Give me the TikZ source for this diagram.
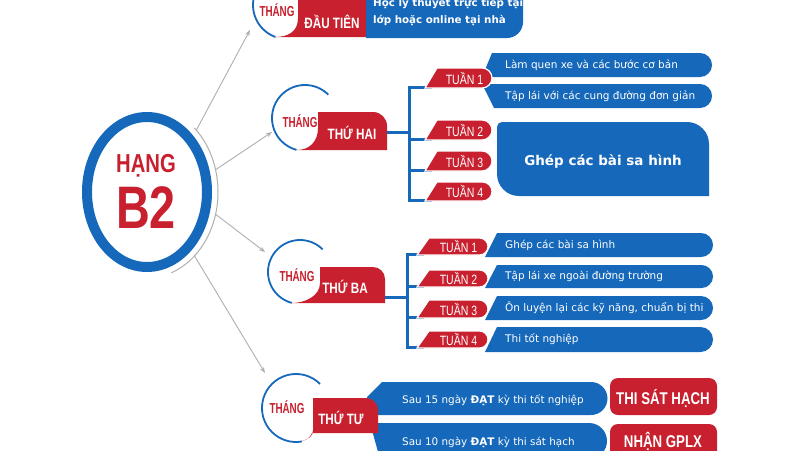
\documentclass[tikz,border=0pt]{standalone}
\usepackage{fontspec}
\usepackage{graphicx}
\setmainfont{DejaVu Sans}
\newfontfamily\condf{Liberation Sans}[FakeStretch=0.78]
\newfontfamily\dvs{DejaVu Sans}
\usetikzlibrary{arrows.meta}
\definecolor{bl}{RGB}{22,104,186}
\definecolor{rd}{RGB}{200,32,46}
\definecolor{gr}{RGB}{175,175,175}
\newcommand\tuantab[6]{%
  \pgfmathsetmacro\hh{(#4-#3)/2}%
  \fill[rd, draw=white, line width=1.2pt] (#2,#4) -- ({#2+12},#3) -- ({#5-\hh},#3)
     arc[start angle=-90, end angle=90, radius=\hh] -- cycle;
  \node[tabtxt] (#1) at ({(#2+12+#5)/2}, {(#3+#4)/2+0.5}) {#6};}
\newcommand\pill[7]{%
  \pgfmathsetmacro\hh{(#5-#4)/2}%
  \fill[bl] (#2,#4) -- ({#6-\hh},#4) arc[start angle=-90, end angle=90, radius=\hh]
     -- (#3,#5) -- cycle;
  \node[pilltxt] (#1) at (505, {(#4+#5)/2}) {#7};}
\begin{document}
\begin{tikzpicture}[x=1pt,y=-1pt,
  conn/.style={draw=gr, line width=0.9pt, -{Stealth[length=6pt,width=4.5pt]}},
  blink/.style={draw=bl, line width=3pt},
  headtxt/.style={inner sep=0, font=\condf\bfseries\fontsize{15}{15}\selectfont, text=white},
  thang/.style={inner sep=0, font=\condf\bfseries\fontsize{14.5}{15}\selectfont, text=rd},
  tabtxt/.style={inner sep=0, font=\condf\fontsize{13.5}{13}\selectfont, text=white},
  pilltxt/.style={inner sep=0, anchor=west, font=\dvs\fontsize{10.5}{12}\selectfont, text=white},
  bartxt/.style={inner sep=0, anchor=west, font=\dvs\fontsize{10.4}{12}\selectfont, text=white},
  redlab/.style={inner sep=0, font=\condf\bfseries\fontsize{17}{17}\selectfont, text=white},
  ringc/.style={draw=bl, line width=1.8pt}
]
\useasboundingbox (0,0) rectangle (800,450);
\clip (0,0) rectangle (800,450);
\fill[white] (0,0) rectangle (800,450);

% ---------- main circle ----------
\draw[bl, line width=10pt] (147,192) ellipse [x radius=60, y radius=75];
\node[inner sep=0, text=rd, font=\condf\bfseries\fontsize{26}{26}\selectfont] (hang) at (146,166) {HẠNG};
\node[inner sep=0, text=rd, font=\condf\bfseries\fontsize{60}{60}\selectfont] (b2) at (146,208) {B2};
\draw[gr, line width=1pt] (147,192) ++(-48:71 and 86) arc[start angle=-48, end angle=70, x radius=71, y radius=86];
\path (147,192) ++(-46:71 and 86) coordinate (s1);
\path (147,192) ++(-15:71 and 86) coordinate (s2);
\path (147,192) ++(15:71 and 86) coordinate (s3);
\path (147,192) ++(48:71 and 86) coordinate (s4);
\coordinate (e1) at (250,30);
\coordinate (e2) at (272,132);
\coordinate (e3) at (265,252);
\coordinate (e4) at (265,373);
\draw[conn] (s1) -- (e1);
\draw[conn] (s2) -- (e2);
\draw[conn] (s3) -- (e3);
\draw[conn] (s4) -- (e4);

% ---------- month 1 ----------
\draw[ringc] (287,5) ++(330:34) arc[start angle=330, end angle=110, radius=34];
\fill[rd] (275,37) -- (380,37) -- (380,0) -- (298,0) -- (298,18) .. controls (298,31) and (289,37) .. (275,37) -- cycle;
\fill[bl] (366,38) -- (366,-20) -- (523,-20) -- (523,22) arc[start angle=0, end angle=90, radius=16] -- cycle;
\node[thang] (m1a) at (277,10) {\scalebox{0.87}[1]{THÁNG}};
\node[headtxt] (m1b) at (332,22) {ĐẦU TIÊN};
\node[inner sep=0, anchor=west, text=white, font=\dvs\bfseries\fontsize{10.3}{12}\selectfont] (m1t1) at (373,3) {Học lý thuyết trực tiếp tại};
\node[inner sep=0, anchor=west, text=white, font=\dvs\bfseries\fontsize{10.3}{12}\selectfont] (m1t2) at (373,20) {lớp hoặc online tại nhà};

% ---------- month 2 ----------
\draw[ringc] (305,118) ++(315:33) arc[start angle=315, end angle=105, radius=33];
\fill[rd] (297,150) -- (387,150) -- (387,126) arc[start angle=0, end angle=-90, radius=14] -- (318,112) -- (318,128) .. controls (318,142) and (309,150) .. (297,150) -- cycle;
\node[thang] (m2a) at (300,121) {\scalebox{0.87}[1]{THÁNG}};
\node[headtxt] (m2b) at (352,133) {THỨ HAI};
\coordinate (m2r) at (387,132);
\coordinate (m2bar) at (409,132);
\coordinate (m2top) at (409,87);
\coordinate (m2bot) at (409,200);
\draw[blink] (m2r) -- (m2bar);
\draw[blink, line cap=rect] (m2top) -- (m2bot);
\draw[blink] (m2top) -- (432,87);
\draw[blink] (409,139) -- (432,139);
\draw[blink] (409,170) -- (432,170);
\draw[blink] (m2bot) -- (432,200);
\pill{p21}{492}{482}{53}{77}{712}{Làm quen xe và các bước cơ bản}
\pill{p22}{482}{494}{84}{108}{712}{Tập lái với các cung đường đơn giản}
\fill[bl] (502,122) -- (687,122) arc[start angle=-90, end angle=0, radius=22] -- (709,196) -- (519,196) arc[start angle=90, end angle=180, radius=22] -- (497,127) arc[start angle=180, end angle=270, radius=5] -- cycle;
\node[inner sep=0, text=white, font=\dvs\bfseries\fontsize{13.5}{14}\selectfont] (ghep) at (603,162) {Ghép các bài sa hình};
\tuantab{t21}{425}{68}{88}{492}{TUẦN 1}
\tuantab{t22}{425}{120}{140}{492}{TUẦN 2}
\tuantab{t23}{425}{151}{171}{492}{TUẦN 3}
\tuantab{t24}{425}{182}{201}{492}{TUẦN 4}

% ---------- month 3 ----------
\draw[ringc] (300,272) ++(315:32) arc[start angle=315, end angle=105, radius=32];
\fill[rd] (292,303) -- (385,303) -- (385,279) arc[start angle=0, end angle=-90, radius=12] -- (320,267) -- (320,283) .. controls (320,296) and (305,303) .. (292,303) -- cycle;
\node[thang] (m3a) at (297,275) {\scalebox{0.87}[1]{THÁNG}};
\node[headtxt] (m3b) at (345,287) {THỨ BA};
\coordinate (m3r) at (385,297);
\coordinate (m3bar) at (407,297);
\coordinate (m3top) at (407,254);
\coordinate (m3bot) at (407,347);
\draw[blink] (m3r) -- (m3bar);
\draw[blink, line cap=rect] (m3top) -- (m3bot);
\draw[blink] (m3top) -- (424,254);
\draw[blink] (407,286) -- (424,286);
\draw[blink] (407,317) -- (424,317);
\draw[blink] (m3bot) -- (424,347);
\pill{p31}{497}{485}{233}{257}{713}{Ghép các bài sa hình}
\pill{p32}{497}{485}{265}{288}{713}{Tập lái xe ngoài đường trường}
\pill{p33}{497}{485}{296}{320}{713}{Ôn luyện lại các kỹ năng, chuẩn bị thi}
\pill{p34}{497}{485}{327}{352}{713}{Thi tốt nghiệp}
\tuantab{t31}{417}{238}{255}{488}{TUẦN 1}
\tuantab{t32}{417}{270}{287}{488}{TUẦN 2}
\tuantab{t33}{417}{300}{318}{488}{TUẦN 3}
\tuantab{t34}{417}{331}{348}{488}{TUẦN 4}

% ---------- month 4 ----------
\draw[ringc] (296,408) ++(315:34) arc[start angle=315, end angle=80, radius=34];
\fill[bl] (382,382) -- (591,382) arc[start angle=-90, end angle=90, radius=16.5] -- (367,415) -- (367,397) -- cycle;
\fill[bl] (370,423) -- (589,423) arc[start angle=-90, end angle=90, radius=18] -- (380,459) -- cycle;
\fill[rd] (302,441) .. controls (309,439) and (313,436) .. (313,430) -- (313,398) -- (366,398) arc[start angle=-90, end angle=0, radius=12] -- (378,433) -- (312,433) .. controls (310,438) and (306,440) .. (302,441) -- cycle;
\node[thang] (m4a) at (287,407) {\scalebox{0.87}[1]{THÁNG}};
\node[headtxt] (m4b) at (341,418) {THỨ TƯ};
\node[bartxt] (b41) at (402,400) {Sau 15 ngày \textbf{ĐẠT} kỳ thi tốt nghiệp};
\node[bartxt] (b42) at (402,442) {Sau 10 ngày \textbf{ĐẠT} kỳ thi sát hạch};
\fill[rd, rounded corners=8pt] (610,378) rectangle (717,415);
\fill[rd, rounded corners=8pt] (610,424) rectangle (717,470);
\node[redlab] (thi) at (663,398) {THI SÁT HẠCH};
\node[redlab] (gplx) at (663,441) {NHẬN GPLX};
\end{tikzpicture}
\end{document}
